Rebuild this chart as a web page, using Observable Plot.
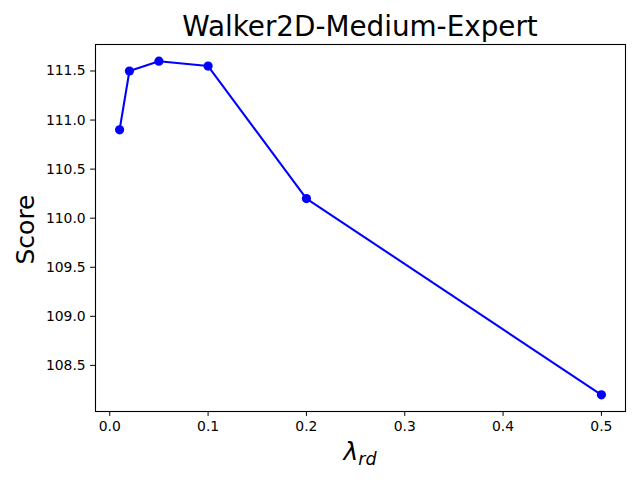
<!DOCTYPE html>
<html>
<head>
<meta charset="utf-8">
<script src="https://cdn.jsdelivr.net/npm/d3@7"></script>
<script src="https://cdn.jsdelivr.net/npm/@observablehq/plot@0.6"></script>
<style>
  body { margin: 0; background: #fff; }
  svg { font-family: "DejaVu Sans", sans-serif; }
</style>
</head>
<body>
<div id="chart"></div>
<script>
const title = "Walker2D-Medium-Expert";
const lambdaValues = [0.01, 0.02, 0.05, 0.1, 0.2, 0.5];
const scores = [110.9, 111.5, 111.6, 111.55, 110.2, 108.2];
const xTicks = [0.0, 0.1, 0.2, 0.3, 0.4, 0.5];
const yTicks = [108.5, 109.0, 109.5, 110.0, 110.5, 111.0, 111.5];

const data = lambdaValues.map((x, i) => ({x, y: scores[i]}));

const W = 640, H = 480;
const mL = 95, mR = 15, mT = 44, mB = 69;

const plot = Plot.plot({
  width: W, height: H,
  marginLeft: mL, marginRight: mR, marginTop: mT, marginBottom: mB,
  style: {fontFamily: "DejaVu Sans, sans-serif", fontSize: "13.9px", color: "#000", background: "#fff"},
  x: {domain: [-0.0145, 0.5245], ticks: xTicks, tickFormat: d3.format(".1f"), label: null, tickSize: 4.9, tickPadding: 4.9},
  y: {domain: [108.03, 111.77], ticks: yTicks, tickFormat: d3.format(".1f"), label: null, tickSize: 4.9, tickPadding: 4.9},
  marks: [
    Plot.frame({stroke: "#000", strokeWidth: 1.1}),
    Plot.line(data, {x: "x", y: "y", stroke: "#0000ff", strokeWidth: 2.08}),
    Plot.dot(data, {x: "x", y: "y", fill: "#0000ff", r: 4.6, stroke: "none"})
  ]
});

const svg = d3.select(plot);
svg.selectAll("[aria-label='x-axis tick label'] text, [aria-label='y-axis tick label'] text").attr("fill", "#000");
svg.selectAll("[aria-label='x-axis tick'], [aria-label='y-axis tick']").attr("stroke", "#000");

svg.append("text")
  .attr("x", mL + (W - mL - mR) / 2).attr("y", 36)
  .attr("text-anchor", "middle")
  .attr("font-size", "27.8px").attr("fill", "#000")
  .text(title);

svg.append("text")
  .attr("transform", `translate(34, ${mT + (H - mT - mB) / 2 + 2}) rotate(-90)`)
  .attr("text-anchor", "middle")
  .attr("font-size", "25px").attr("fill", "#000")
  .text("Score");

const xl = svg.append("text")
  .attr("x", mL + (W - mL - mR) / 2).attr("y", 460)
  .attr("text-anchor", "middle")
  .attr("font-size", "25px").attr("fill", "#000")
  .attr("font-style", "italic");
xl.append("tspan").text("λ");
xl.append("tspan").attr("font-size", "17.5px").attr("dy", "5").text("rd");

document.getElementById("chart").appendChild(plot);
</script>
</body>
</html>
